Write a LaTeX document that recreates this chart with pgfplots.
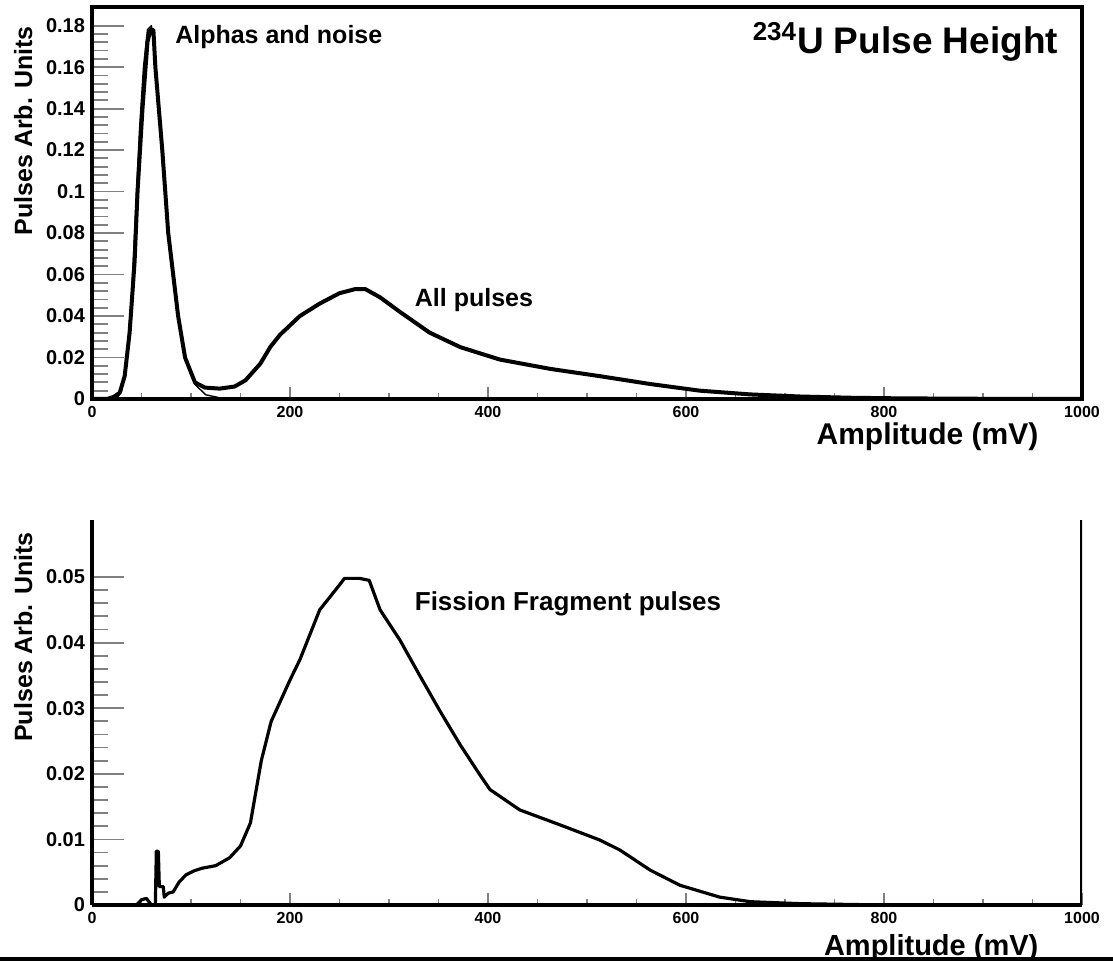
\documentclass[border=0pt]{standalone}
\usepackage{fontspec}
\setmainfont{Liberation Sans}
\usepackage{pgfplots}
\pgfplotsset{compat=1.18}

\pgfplotsset{
  rootpanel/.style={
    scale only axis, width=495pt,
    xmin=0, xmax=1000,
    xtick={0,200,400,600,800,1000}, minor x tick num=3,
    minor y tick num=4,
    xtick pos=bottom, ytick pos=left, tick align=inside,
    axis line style={line width=1.6pt,-},
    xtick style={line width=0.9pt, /pgfplots/major tick length=6pt, /pgfplots/minor tick length=3pt},
    ytick style={line width=0.9pt, /pgfplots/major tick length=16pt, /pgfplots/minor tick length=8pt},
    scaled y ticks=false,
    /pgf/number format/assume math mode=true,
    xticklabel style={font=\bfseries\fontsize{8}{8}\selectfont,
      /pgf/number format/set thousands separator={}},
    yticklabel style={font=\bfseries\fontsize{10}{10}\selectfont,
      /pgf/number format/fixed, /pgf/number format/precision=2},
    xlabel={Amplitude (mV)},
    ylabel={Pulses Arb. Units},
    xlabel style={font=\bfseries\fontsize{15}{15}\selectfont,
      at={(ticklabel cs:0.963)}, anchor=north east, yshift=4pt},
    ylabel style={font=\bfseries\fontsize{12.5}{12.5}\selectfont},
    every axis plot/.append style={line join=round},
  }
}

% U-234 pulse height spectra, amplitude in mV
\pgfplotstableread{
amp   all
0     0
15    0
22    0.001
28    0.003
33    0.011
38    0.032
43    0.066
46    0.100
51    0.140
56    0.172
59    0.178
62    0.178
64    0.160
71    0.120
77    0.080
82    0.060
87    0.040
94    0.020
104   0.008
114   0.0055
129   0.005
144   0.006
155   0.009
170   0.017
180   0.025
190   0.031
210   0.040
230   0.046
250   0.051
266   0.053
276   0.053
291   0.049
311   0.042
341   0.032
372   0.025
412   0.019
463   0.0145
513   0.011
564   0.0072
614   0.0040
665   0.0022
715   0.0012
766   0.0006
816   0.0003
900   0.0001
1000  0
}\allpulses

\pgfplotstableread{
amp   alpha
0     0
25    0
30    0.004
35    0.020
40    0.050
44    0.090
48    0.130
52    0.160
56    0.178
60    0.180
63    0.170
66    0.150
71    0.115
77    0.078
82    0.057
87    0.038
94    0.019
104   0.007
115   0.002
130   0.0005
150   0
1000  0
}\alphas

\pgfplotstableread{
amp   ff
0     0
45    0
50    0.0008
55    0.0010
60    0
64    0
65    0.0082
67    0.0082
68    0.0028
72    0.0028
73    0.0012
77    0.0018
82    0.0020
88    0.0035
95    0.0046
103   0.0052
111   0.0056
125   0.0060
139   0.0072
150   0.0090
160   0.0125
171   0.0220
181   0.0280
200   0.0343
210   0.0374
230   0.0450
250   0.0488
255   0.0498
270   0.0498
280   0.0495
291   0.0450
311   0.0404
331   0.0350
351   0.0297
372   0.0244
392   0.0198
402   0.0176
432   0.0145
473   0.0122
513   0.0099
533   0.0084
564   0.0053
594   0.0030
634   0.0012
665   0.0005
715   0.0002
800   0
1000  0
}\fission

\begin{document}
\begin{tikzpicture}
\useasboundingbox (0pt,0pt) rectangle (556.5pt,480.5pt);

% upper panel: all pulses
\begin{axis}[rootpanel,
  at={(46pt,281pt)}, anchor=south west,
  height=196pt,
  ymin=0, ymax=0.189,
  ytick={0,0.02,0.04,0.06,0.08,0.1,0.12,0.14,0.16,0.18},
  ylabel style={at={(ticklabel cs:0.684)}},
]
\addplot[black, line width=0.7pt] table[x=amp, y=alpha] {\alphas};
\addplot[black, line width=2pt] table[x=amp, y=all] {\allpulses};
\node[anchor=east, font=\bfseries\fontsize{18.5}{18.5}\selectfont]
  at (rel axis cs:0.983,0.911) {\textsuperscript{234}U Pulse Height};
\node[anchor=west, font=\bfseries\fontsize{12.5}{12.5}\selectfont]
  at (rel axis cs:0.077,0.923) {Alphas and noise};
\node[anchor=west, font=\bfseries\fontsize{12.5}{12.5}\selectfont]
  at (rel axis cs:0.319,0.253) {All pulses};
\end{axis}

% lower panel: fission fragment pulses
\begin{axis}[rootpanel,
  at={(46pt,28pt)}, anchor=south west,
  height=192.5pt,
  axis x line*=bottom, axis y line*=left,
  ymin=0, ymax=0.0587,
  ytick={0,0.01,0.02,0.03,0.04,0.05},
  ylabel style={at={(ticklabel cs:0.696)}},
  xlabel style={yshift=-2.5pt, font=\bfseries\fontsize{14.5}{14.5}\selectfont},
]
\addplot[black, line width=1.6pt] table[x=amp, y=ff] {\fission};
\draw[line width=1.6pt] (rel axis cs:1,0) -- (rel axis cs:1,1);
\node[anchor=west, font=\bfseries\fontsize{13}{13}\selectfont]
  at (rel axis cs:0.319,0.782) {Fission Fragment pulses};
\end{axis}

\draw[line width=2pt] (0pt,1.2pt) -- (556.5pt,1.2pt);
\end{tikzpicture}
\end{document}
